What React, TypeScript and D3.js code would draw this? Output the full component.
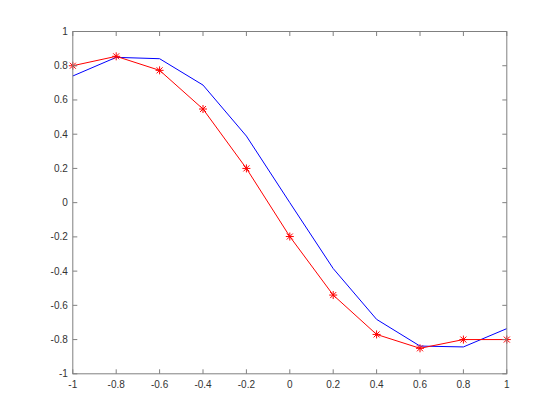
import React from "react";
import * as d3 from "d3";

const xValues = [-1, -0.8, -0.6, -0.4, -0.2, 0, 0.2, 0.4, 0.6, 0.8, 1];
const blueValues = [0.74, 0.849, 0.841, 0.687, 0.389, 0.0, -0.385, -0.682, -0.838, -0.843, -0.736];
const redValues = [0.80, 0.855, 0.773, 0.547, 0.20, -0.198, -0.54, -0.77, -0.851, -0.80, -0.80];
const xTicks = [-1, -0.8, -0.6, -0.4, -0.2, 0, 0.2, 0.4, 0.6, 0.8, 1];
const yTicks = [-1, -0.8, -0.6, -0.4, -0.2, 0, 0.2, 0.4, 0.6, 0.8, 1];

const W = 560;
const H = 420;
const left = 72.8;
const right = 72.8 + 434;
const top = 31.5;
const bottom = 373.8;

const fmt = (v: number) => {
  const s = d3.format("")(Math.round(v * 10) / 10);
  return s.replace("−", "-");
};

export default function App() {
  const x = d3.scaleLinear().domain([-1, 1]).range([left, right]);
  const y = d3.scaleLinear().domain([-1, 1]).range([bottom, top]);
  const line = d3
    .line<number>()
    .x((_, i) => x(xValues[i]))
    .y((d) => y(d));
  const axisColor = "#808080";
  const textColor = "#333";
  const tl = 4.5;
  const ms = 4;
  return (
    <svg
      width={W}
      height={H}
      style={{ position: "absolute", left: 0, top: 0, background: "#fff" }}
      fontFamily="'Liberation Sans', Arial, sans-serif"
      fontSize={10}
    >
      <rect x={0} y={0} width={W} height={H} fill="#fff" />
      <path d={line(blueValues) || ""} fill="none" stroke="#0000ff" strokeWidth={1} />
      <path d={line(redValues) || ""} fill="none" stroke="#ff0000" strokeWidth={1} />
      {redValues.map((v, i) => {
        const cx = x(xValues[i]);
        const cy = y(v);
        const d = ms * 0.75;
        return (
          <g key={i} stroke="#ff0000" strokeWidth={1}>
            <line x1={cx - ms} y1={cy} x2={cx + ms} y2={cy} />
            <line x1={cx} y1={cy - ms} x2={cx} y2={cy + ms} />
            <line x1={cx - d} y1={cy - d} x2={cx + d} y2={cy + d} />
            <line x1={cx - d} y1={cy + d} x2={cx + d} y2={cy - d} />
          </g>
        );
      })}
      <rect
        x={left}
        y={top}
        width={right - left}
        height={bottom - top}
        fill="none"
        stroke={axisColor}
        strokeWidth={1}
      />
      {xTicks.map((t, i) => (
        <g key={"x" + i}>
          <line x1={x(t)} x2={x(t)} y1={bottom} y2={bottom - tl} stroke={axisColor} />
          <line x1={x(t)} x2={x(t)} y1={top} y2={top + tl} stroke={axisColor} />
          <text x={x(t)} y={bottom + 14} textAnchor="middle" fill={textColor}>
            {fmt(t)}
          </text>
        </g>
      ))}
      {yTicks.map((t, i) => (
        <g key={"y" + i}>
          <line x1={left} x2={left + tl} y1={y(t)} y2={y(t)} stroke={axisColor} />
          <line x1={right} x2={right - tl} y1={y(t)} y2={y(t)} stroke={axisColor} />
          <text x={left - 5} y={y(t) + 3.5} textAnchor="end" fill={textColor}>
            {fmt(t)}
          </text>
        </g>
      ))}
    </svg>
  );
}
